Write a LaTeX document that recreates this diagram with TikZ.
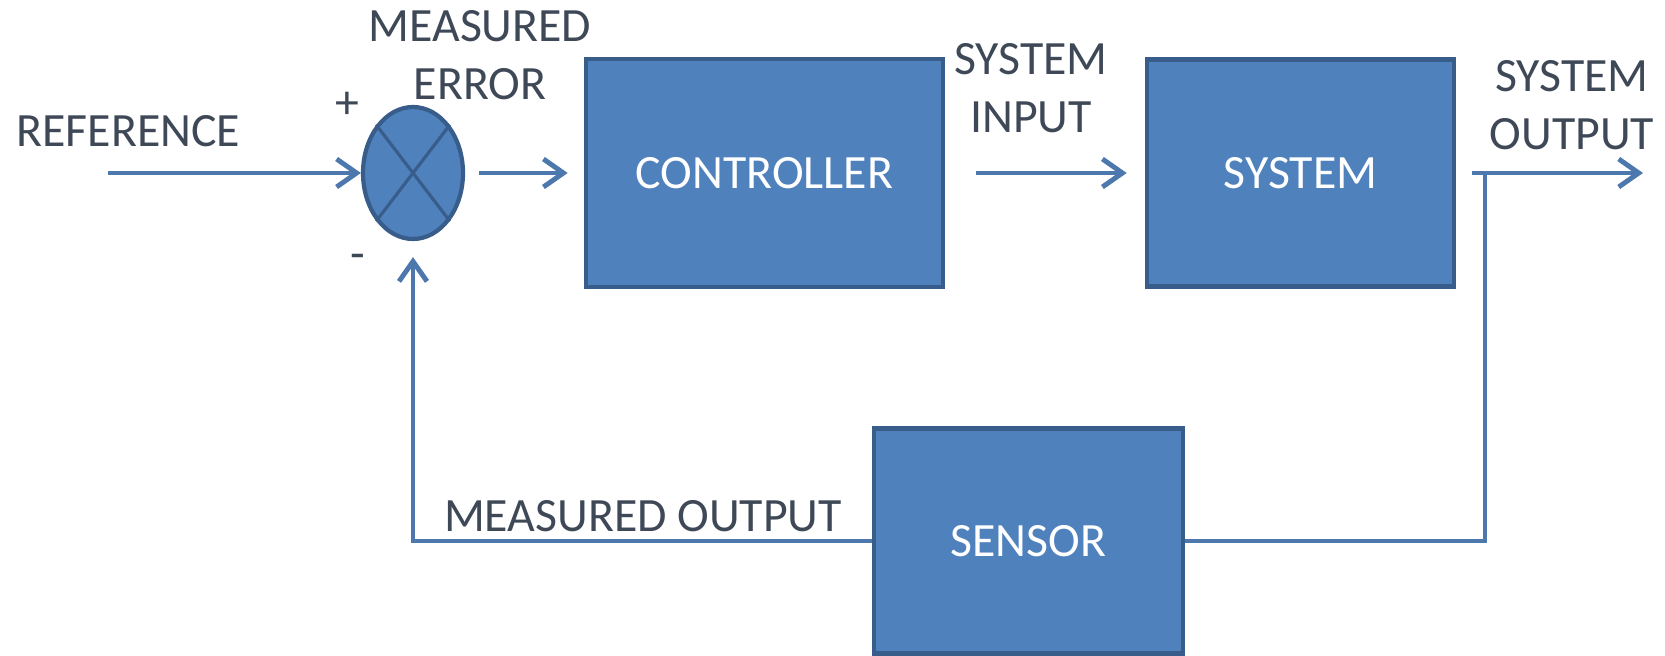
\documentclass[tikz,border=0pt]{standalone}
\usepackage{fontspec}
\setmainfont{Carlito}
\usetikzlibrary{arrows.meta,shapes.geometric}

\definecolor{boxfill}{HTML}{4F81BD}
\definecolor{boxedge}{HTML}{385D8A}
\definecolor{wire}{HTML}{4D78AD}
\definecolor{labeltext}{HTML}{3E4856}

\tikzset{
  block/.style   = {draw=boxedge, line width=1.3pt, fill=boxfill, text=white,
                    inner sep=0pt, font=\fontsize{13.6}{16.5}\selectfont},
  sumnode/.style = {ellipse, draw=boxedge, line width=1.2pt, fill=boxfill,
                    minimum width=1cm, minimum height=1.32cm, inner sep=0pt},
  wireline/.style = {draw=wire, line width=1.4pt},
  conn/.style    = {wireline, -{Straight Barb[length=2mm,width=2.8mm]}},
  lbl/.style     = {text=labeltext, align=center, inner sep=0pt,
                    font=\fontsize{13.6}{16.5}\selectfont},
}

\begin{document}
\begin{tikzpicture}
    \useasboundingbox (0,0) rectangle (16.65,6.55);

    % blocks of the loop
    \node[sumnode] (sum) at (4.13,4.82) {};
    \draw[boxedge, line width=0.9pt] (sum.north west) -- (sum.south east)
                                     (sum.north east) -- (sum.south west);
    \node[block, minimum width=3.57cm, minimum height=2.28cm] (ctrl) at (7.645,4.82)  {CONTROLLER};
    \node[block, minimum width=3.07cm, minimum height=2.27cm] (sys)  at (13.005,4.82) {SYSTEM};
    \node[block, minimum width=3.09cm, minimum height=2.25cm] (sens) at (10.285,1.14) {SENSOR};

    \coordinate (ref)    at (1.08,4.82);
    \coordinate (out)    at (16.43,4.82);
    \coordinate (branch) at (14.85,4.82);

    % forward path
    \draw[conn] (ref) -- (sum.west);
    \draw[conn, shorten <=0.14cm, shorten >=0.16cm] (sum.east) -- (ctrl.west);
    \draw[conn, shorten <=0.31cm, shorten >=0.18cm] (ctrl.east) -- (sys.west);
    \draw[conn, shorten <=0.16cm] (sys.east) -- (out);

    % feedback path
    \draw[wireline] (branch) |- (sens.east);
    \draw[conn, shorten >=0.16cm] (sens.west) -| (sum.south);

    % labels
    \node[lbl] (lref)     at (1.285,5.24) {REFERENCE};
    \node[lbl] (lplus)    at (3.47,5.50)  {+};
    \node[lbl] (lminus)   at (3.58,3.93)  {-};
    \node[lbl] (lerr)     at (4.80,6.0)   {MEASURED\\ERROR};
    \node[lbl] (lsysin)   at (10.31,5.67) {SYSTEM\\INPUT};
    \node[lbl] (lsysout)  at (15.72,5.50) {SYSTEM\\OUTPUT};
    \node[lbl] (lmeasout) at (6.43,1.39)  {MEASURED OUTPUT};
\end{tikzpicture}
\end{document}
